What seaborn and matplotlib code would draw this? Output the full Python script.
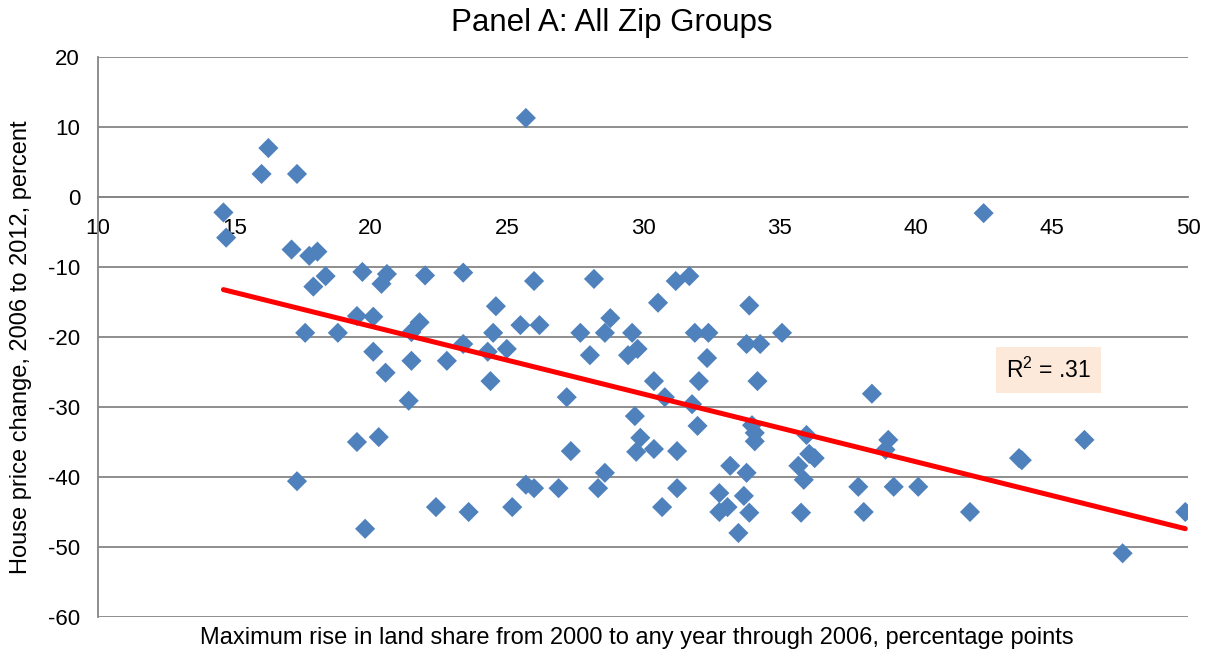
import numpy as np
import pandas as pd
import matplotlib
matplotlib.use("Agg")
import matplotlib.pyplot as plt
import seaborn as sns

# Data (x: max rise in land share, y: house price change)
land_share_rise = [
    14.6, 14.7, 16.0, 16.25, 17.3, 25.7, 42.5,
    17.1, 17.75, 18.05, 17.9, 18.35, 19.7, 20.4, 20.6, 22.0, 23.4, 26.0, 28.2, 31.2, 31.7,
    24.6, 30.55, 33.9, 17.6, 18.8, 19.5, 20.1, 21.5, 21.8,
    24.5, 25.5, 26.2, 27.7, 28.6, 28.8, 29.6, 31.9, 32.4, 33.8, 34.3, 35.1,
    20.1, 20.55, 21.5, 22.8, 23.4, 24.3, 25.0, 28.05, 29.45, 29.8, 32.35,
    24.4, 30.4, 32.05, 34.2, 21.4, 27.2, 30.8, 31.8, 38.4,
    29.7, 32.0, 34.0, 34.1, 34.1, 29.9, 29.75, 30.4, 31.25, 27.35, 36.0, 19.5, 20.3,
    39.0, 38.9, 46.2, 36.1, 36.3, 43.8, 43.9,
    35.7, 33.2, 33.8, 28.6, 17.3, 35.9, 25.7, 26.0, 26.9, 28.35, 31.25, 37.9, 39.2, 40.1,
    32.8, 33.7,
    22.4, 23.6, 25.2, 30.7, 32.8, 33.1, 33.9, 35.8, 38.1, 42.0, 49.9, 19.8, 33.5, 47.6,
]
price_change = [
    -2.2, -5.8, 3.3, 7.0, 3.3, 11.3, -2.3,
    -7.5, -8.4, -7.8, -12.8, -11.3, -10.7, -12.4, -11.0, -11.2, -10.8, -12.0, -11.7, -12.0, -11.3,
    -15.6, -15.1, -15.5, -19.4, -19.4, -17.0, -17.1, -19.3, -17.9,
    -19.4, -18.3, -18.3, -19.4, -19.4, -17.3, -19.4, -19.4, -19.4, -21.0, -21.0, -19.4,
    -22.1, -25.1, -23.4, -23.4, -21.0, -22.1, -21.7, -22.6, -22.6, -21.7, -23.0,
    -26.3, -26.3, -26.3, -26.3, -29.1, -28.6, -28.6, -29.6, -28.1,
    -31.3, -32.7, -32.6, -33.7, -34.9, -34.4, -36.4, -36.0, -36.3, -36.3, -34.0, -35.0, -34.3,
    -34.7, -36.1, -34.7, -36.7, -37.3, -37.3, -37.6,
    -38.4, -38.4, -39.4, -39.4, -40.6, -40.4, -41.1, -41.6, -41.6, -41.6, -41.6, -41.4, -41.4, -41.4,
    -42.3, -42.7,
    -44.3, -45.0, -44.3, -44.3, -45.0, -44.3, -45.1, -45.1, -45.0, -45.0, -45.0, -47.4, -48.0, -50.9,
]
x_ticks = [10, 15, 20, 25, 30, 35, 40, 45, 50]
y_ticks = [20, 10, 0, -10, -20, -30, -40, -50, -60]
r2_label = "R$^2$ = .31"

df = pd.DataFrame({"x": land_share_rise, "y": price_change})

# linear trend line over the data range
slope, intercept = np.polyfit(df["x"], df["y"], 1)
fit_x = np.array([df["x"].min(), df["x"].max()])
fit_df = pd.DataFrame({"x": fit_x, "y": intercept + slope * fit_x})

sns.set_style("white")
plt.rcParams["font.family"] = ["Liberation Sans", "DejaVu Sans"]
plt.rcParams["axes.unicode_minus"] = False
plt.rcParams["text.color"] = "black"
plt.rcParams["axes.labelcolor"] = "black"
plt.rcParams["xtick.color"] = "black"
plt.rcParams["ytick.color"] = "black"
plt.rcParams["mathtext.fontset"] = "custom"
plt.rcParams["mathtext.rm"] = "Liberation Sans"

fig = plt.figure(figsize=(12.11, 6.56), dpi=100)
ax = fig.add_axes([0.081, 0.0595, 0.9, 0.8535])

sns.scatterplot(data=df, x="x", y="y", marker="D", s=105, color="#4F81BD",
                edgecolor="none", ax=ax, zorder=3)
sns.lineplot(data=fit_df, x="x", y="y", color="#FF0000", linewidth=3.6, ax=ax, zorder=4)

ax.set_xlim(10, 50)
ax.set_ylim(-60, 20)
ax.set_xticks(x_ticks)
ax.set_yticks(y_ticks)
ax.tick_params(axis="y", length=0, labelsize=16, pad=13)
ax.tick_params(axis="x", length=5, color="#868686", labelsize=16, direction="out", pad=10)

ax.grid(axis="y", color="#868686", linewidth=1.3)
ax.grid(axis="x", visible=False)
ax.set_axisbelow(True)
for side in ["top", "right"]:
    ax.spines[side].set_visible(False)
ax.spines["left"].set_color("#868686")
ax.spines["left"].set_linewidth(1.3)
ax.spines["bottom"].set_position(("data", 0))
ax.spines["bottom"].set_color("#868686")
ax.spines["bottom"].set_linewidth(1.3)

ax.set_xlabel("Maximum rise in land share from 2000 to any year through 2006, percentage points",
              fontsize=17)
ax.xaxis.set_label_coords(0.494, -0.018)
ax.set_ylabel("House price change, 2006 to 2012, percent", fontsize=17)
ax.yaxis.set_label_coords(-0.061, 0.482)
fig.suptitle("Panel A: All Zip Groups", fontsize=22.5, x=0.505, y=0.988, va="top")

ax.text(0.872, 0.441, r2_label, transform=ax.transAxes, fontsize=16.5, ha="center", va="center",
        bbox=dict(boxstyle="square,pad=0.45", facecolor="#FDE9D9", edgecolor="none"))

fig.savefig("out.png", dpi=100)
plt.close(fig)
